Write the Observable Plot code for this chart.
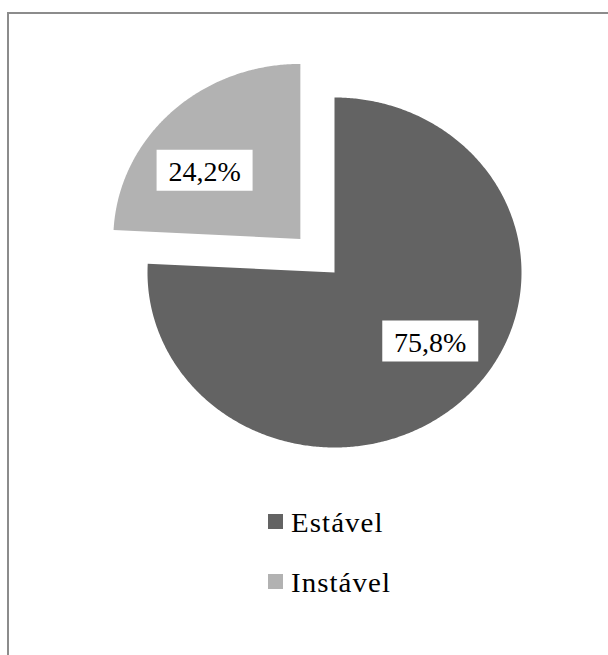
<!DOCTYPE html>
<html><head><meta charset="utf-8">
<script src="https://cdn.jsdelivr.net/npm/d3@7"></script>
<script src="https://cdn.jsdelivr.net/npm/@observablehq/plot@0.6"></script>
<style>
html,body{margin:0;padding:0;background:#fff;overflow:hidden;width:608px;height:655px}
#frame{position:absolute;left:7px;top:12px;width:720px;height:720px;border:2px solid #8c8c8c;box-sizing:border-box}
#chart{position:absolute;left:0;top:0}
.lg{position:absolute;font-family:"Liberation Serif","Times New Roman",serif;font-size:27px;line-height:27px;color:#000;letter-spacing:1px;white-space:nowrap;transform:scaleX(1.07);transform-origin:left center}
.sw{position:absolute;width:15px;height:15px}
</style></head><body>
<div id="frame"></div>
<div id="chart"></div>
<div id="legend"></div>
<script>
// Data
const categories = ["Estável", "Instável"];
const values = [75.8, 24.2];
const labels = ["75,8%", "24,2%"];
const colors = ["#636363", "#b2b2b2"];
const exploded = [false, true];

// Pie geometry (unit radius, angles clockwise from north)
const explodeDist = 0.265;
const labelRadius = 0.645;
const labelAngleShift = -9 * Math.PI / 180;
const total = d3.sum(values);
let acc = 0;
const slices = categories.map((cat, i) => {
  const a0 = acc / total * 2 * Math.PI;
  acc += values[i];
  const a1 = acc / total * 2 * Math.PI;
  const mid = (a0 + a1) / 2;
  const cx = exploded[i] ? explodeDist * Math.sin(mid) : 0;
  const cy = exploded[i] ? explodeDist * Math.cos(mid) : 0;
  const la = mid + labelAngleShift;
  return {cat, a0, a1, cx, cy, label: labels[i],
    lx: cx + labelRadius * Math.sin(la), ly: cy + labelRadius * Math.cos(la)};
});
const pts = [];
for (const s of slices) {
  const n = Math.max(2, Math.ceil((s.a1 - s.a0) / (Math.PI / 360)));
  pts.push({cat: s.cat, u: s.cx, v: s.cy});
  for (let k = 0; k <= n; k++) {
    const a = s.a0 + (s.a1 - s.a0) * k / n;
    pts.push({cat: s.cat, u: s.cx + Math.sin(a), v: s.cy + Math.cos(a)});
  }
}

const boxSymbol = {draw(ctx) {
  ctx.moveTo(-48, -20.5); ctx.lineTo(48, -20.5); ctx.lineTo(48, 20.5); ctx.lineTo(-48, 20.5); ctx.closePath();
}};

const W = 608, H = 480, CX = 334, CY = 272, RX = 187, RY = 175;
const chart = Plot.plot({
  width: W, height: H,
  margin: 0,
  x: {domain: [-CX / RX, (W - CX) / RX], axis: null},
  y: {domain: [(CY - H) / RY, CY / RY], axis: null},
  color: {domain: categories, range: colors},
  marks: [
    Plot.line(pts, {x: "u", y: "v", z: "cat", fill: "cat", stroke: "none", curve: "linear"}),
    Plot.dot(slices, {x: "lx", y: "ly", symbol: boxSymbol, fill: "white", stroke: "none"}),
    Plot.text(slices, {x: "lx", y: "ly", text: "label", fontSize: 28, fontFamily: "Liberation Serif, Times New Roman, serif", fill: "black", dy: 2})
  ]
});
document.getElementById("chart").appendChild(chart);

// Legend
const legend = document.getElementById("legend");
categories.forEach((c, i) => {
  const sw = document.createElement("div");
  sw.className = "sw";
  sw.style.left = "268px";
  sw.style.top = (514 + i * 60) + "px";
  sw.style.background = colors[i];
  legend.appendChild(sw);
  const t = document.createElement("div");
  t.className = "lg";
  t.style.left = "291px";
  t.style.top = (510 + i * 60) + "px";
  t.textContent = c;
  legend.appendChild(t);
});
</script>
</body></html>
